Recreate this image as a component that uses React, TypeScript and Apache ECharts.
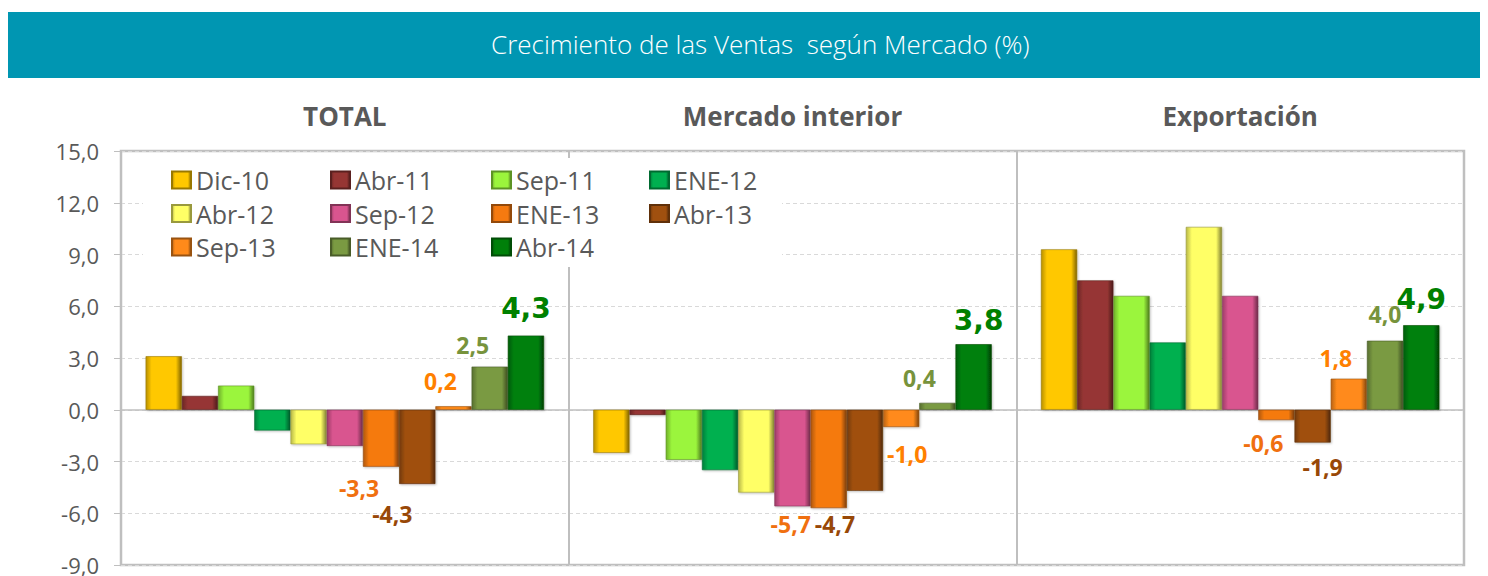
import React, { useEffect, useRef } from "react";
import * as echarts from "echarts";

const TITLE = "Crecimiento de las Ventas  según Mercado (%)";
const GROUPS = ["TOTAL", "Mercado interior", "Exportación"];
const SERIES_NAMES = ["Dic-10", "Abr-11", "Sep-11", "ENE-12", "Abr-12", "Sep-12", "ENE-13", "Abr-13", "Sep-13", "ENE-14", "Abr-14"];

// values per series: [TOTAL, Mercado interior, Exportación]
const dic10 = [3.1, -2.5, 9.3];
const abr11 = [0.8, -0.3, 7.5];
const sep11 = [1.4, -2.9, 6.6];
const ene12 = [-1.2, -3.5, 3.9];
const abr12 = [-2.0, -4.8, 10.6];
const sep12 = [-2.1, -5.6, 6.6];
const ene13 = [-3.3, -5.7, -0.6];
const abr13 = [-4.3, -4.7, -1.9];
const sep13 = [0.2, -1.0, 1.8];
const ene14 = [2.5, 0.4, 4.0];
const abr14 = [4.3, 3.8, 4.9];

const Y_MIN = -9;
const Y_MAX = 15;
const Y_STEP = 3;

const VALUES = [dic10, abr11, sep11, ene12, abr12, sep12, ene13, abr13, sep13, ene14, abr14];

const COLORS = ["#FFC800", "#963634", "#9BF53C", "#00B050", "#FFFF66", "#D9558F", "#F57A10", "#A0500F", "#FF8A1A", "#7A9A42", "#00800A"];
const LABEL_COLORS: Record<string, string> = {
  "ENE-13": "#F07010",
  "Abr-13": "#984807",
  "Sep-13": "#FF8000",
  "ENE-14": "#77933C",
  "Abr-14": "#008000",
};
// label shifts [dx, dy] per group
const LABEL_SHIFT: Record<string, number[][]> = {
  "ENE-13": [[-22, 5], [-38, -1], [-13, 6]],
  "Abr-13": [[-25, 14], [-30, 17], [10, 8]],
  "Sep-13": [[-13, -9], [6, 10], [-13, -4]],
  "ENE-14": [[-17, -5], [-18, -8], [0, -10]],
  "Abr-14": [[0, -8], [5, -5], [0, -7]],
};

const LEGEND_COLUMNS = [
  ["Dic-10", "Abr-12", "Sep-13"],
  ["Abr-11", "Sep-12", "ENE-14"],
  ["Sep-11", "ENE-13", "Abr-14"],
  ["ENE-12", "Abr-13"],
];
const LEGEND_LEFT = [171, 330, 491, 649];

function shade(hex: string, f: number) {
  const n = parseInt(hex.slice(1), 16);
  const r = Math.round(((n >> 16) & 255) * f);
  const g = Math.round(((n >> 8) & 255) * f);
  const b = Math.round((n & 255) * f);
  const c = (v: number) => Math.min(255, v).toString(16).padStart(2, "0");
  return "#" + c(r) + c(g) + c(b);
}

const fmt = (v: number) => v.toFixed(1).replace(".", ",");

export default function App() {
  const ref = useRef<HTMLDivElement>(null);
  useEffect(() => {
    if (!ref.current) return;
    const chart = echarts.init(ref.current, undefined, { renderer: "svg" });

    const series: any[] = SERIES_NAMES.map((name, si) => {
      const base = COLORS[si];
      const fill = {
        type: "linear", x: 0, y: 0, x2: 1, y2: 0,
        colorStops: [
          { offset: 0, color: shade(base, 0.72) },
          { offset: 0.16, color: base },
          { offset: 0.84, color: base },
          { offset: 1, color: shade(base, 0.5) },
        ],
      };
      const hasLabel = !!LABEL_SHIFT[name];
      const big = name === "Abr-14";
      const data = VALUES[si].map((v, gi) => {
        const item: any = { value: v };
        if (hasLabel) {
          const s = LABEL_SHIFT[name][gi];
          item.label = {
            show: true,
            position: v < 0 ? "bottom" : "top",
            offset: [s[0], s[1]],
          };
        }
        return item;
      });
      const s: any = {
        name,
        type: "bar",
        data,
        barGap: "0%",
        barCategoryGap: "11%",
        itemStyle: {
          color: fill,
          borderColor: shade(base, 0.6),
          borderWidth: 0.6,
          shadowColor: "rgba(0,0,0,0.25)",
          shadowBlur: 2,
          shadowOffsetX: 1,
          shadowOffsetY: 1,
        },
        label: {
          show: false,
          formatter: (p: any) => fmt(p.value),
          color: LABEL_COLORS[name] || "#333",
          fontFamily: big ? "DejaVu Sans" : "Open Sans",
          fontWeight: "bold",
          fontSize: big ? 28 : 23,
        },
        emphasis: { disabled: true },
      };
      if (si === 0) {
        s.markLine = {
          silent: true,
          symbol: "none",
          label: { show: false },
          lineStyle: { color: "#BFBFBF", type: "solid", width: 1.5 },
          data: [{ yAxis: 0 }],
          z: 1,
        };
      }
      return s;
    });

    const legends = LEGEND_COLUMNS.map((col, i) => ({
      orient: "vertical",
      left: LEGEND_LEFT[i],
      top: 165,
      padding: 0,
      itemGap: 3.5,
      itemWidth: 19,
      itemHeight: 17,
      icon: "rect",
      selectedMode: false,
      data: col,
      textStyle: { fontFamily: "Open Sans", fontSize: 25, color: "#595959", lineHeight: 30 },
    }));

    chart.setOption({
      animation: false,
      backgroundColor: "#ffffff",
      title: {
        text: TITLE,
        left: 491,
        top: 31,
        padding: 0,
        textStyle: { color: "#ffffff", fontFamily: "Open Sans", fontWeight: "lighter", fontSize: 26 },
      },
      graphic: [
        { type: "rect", left: 8, top: 12, shape: { width: 1472, height: 66 }, style: { fill: "#0096B2" }, z: 0 },
        { type: "rect", left: 143, top: 158, shape: { width: 639, height: 109 }, style: { fill: "#ffffff" }, z: 1 },
      ],
      legend: legends,
      grid: {
        left: 121,
        right: 24,
        top: 151,
        bottom: 10,
        show: true,
        borderColor: "#BFBFBF",
        borderWidth: 2.5,
        backgroundColor: "transparent",
      },
      xAxis: {
        type: "category",
        position: "top",
        data: GROUPS,
        axisLine: { show: false },
        axisTick: { show: false },
        axisLabel: { margin: 22, color: "#595959", fontFamily: "Open Sans", fontWeight: "bold", fontSize: 26 },
        splitLine: { show: true, lineStyle: { color: "#BFBFBF", width: 2 } },
      },
      yAxis: {
        type: "value",
        min: Y_MIN,
        max: Y_MAX,
        interval: Y_STEP,
        axisLine: { show: false },
        axisTick: { show: true, length: 7, lineStyle: { color: "#BFBFBF" } },
        axisLabel: { margin: 22, color: "#595959", fontFamily: "Open Sans", fontSize: 22, formatter: (v: number) => fmt(v) },
        splitLine: { show: true, lineStyle: { color: "#D9D9D9", type: [4, 3], width: 1 } },
      },
      series,
    });
    return () => chart.dispose();
  }, []);
  return <div ref={ref} style={{ position: "fixed", left: 0, top: 0, width: 1488, height: 576 }} />;
}
